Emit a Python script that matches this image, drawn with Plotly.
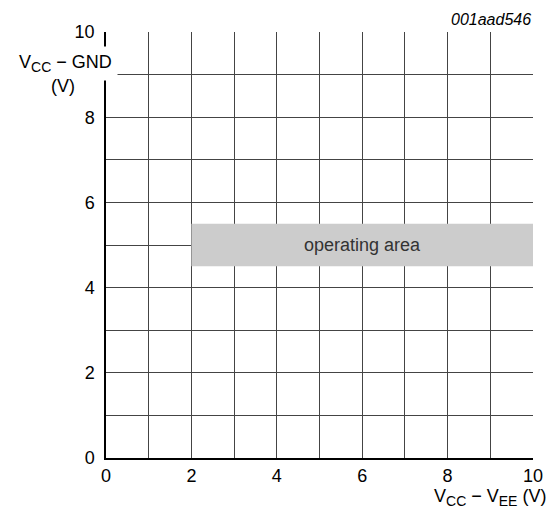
import plotly.graph_objects as go

x_ticks = [0, 2, 4, 6, 8, 10]
y_ticks = [0, 2, 4, 6, 8, 10]
area_x = [2, 10]
area_y = [4.5, 5.5]
area_label = "operating area"
code = "001aad546"

FONT = "Liberation Sans, Arial, sans-serif"
SUB = "<sub><span style='font-size:14px'>{}</span></sub>"

fig = go.Figure()
fig.add_trace(go.Scatter(
    x=[area_x[0], area_x[1], area_x[1], area_x[0], area_x[0]],
    y=[area_y[0], area_y[0], area_y[1], area_y[1], area_y[0]],
    fill="toself", fillcolor="#cccccc", mode="lines", line=dict(width=0),
    hoverinfo="skip", showlegend=False))
fig.add_annotation(x=(area_x[0] + area_x[1]) / 2, y=(area_y[0] + area_y[1]) / 2,
                   text=area_label, showarrow=False,
                   font=dict(family=FONT, size=18, color="#333333"))

axis_common = dict(showgrid=True, gridcolor="#444444", gridwidth=1,
                   showline=True, linecolor="black", linewidth=1.5,
                   ticks="", zeroline=False, mirror=False, automargin=False,
                   tickfont=dict(family=FONT, size=18, color="black"))
fig.update_xaxes(range=[0, 10], tickvals=x_ticks, ticklabelstandoff=1,
                 minor=dict(showgrid=True, dtick=1, gridcolor="#444444", gridwidth=1),
                 **axis_common)
fig.update_yaxes(range=[0, 10], tickvals=y_ticks, ticklabelstandoff=6,
                 minor=dict(showgrid=True, dtick=1, gridcolor="#444444", gridwidth=1),
                 **axis_common)

fig.add_annotation(xref="paper", yref="paper", x=1, y=1, xanchor="right", yanchor="bottom",
                   yshift=2, text=f"<i>{code}</i>", showarrow=False,
                   font=dict(family=FONT, size=16, color="black"))
fig.add_annotation(xref="paper", yref="paper", x=0, y=0.925, xanchor="right", yanchor="middle",
                   xshift=11.5, text="V" + SUB.format("CC") + " − GND", showarrow=False,
                   bgcolor="white", borderpad=5, font=dict(family=FONT, size=18, color="black"))
fig.add_annotation(xref="paper", yref="paper", x=0, y=0.873, xanchor="center", yanchor="middle",
                   xshift=-43, text="(V)", showarrow=False,
                   font=dict(family=FONT, size=18, color="black"))
fig.add_annotation(xref="paper", yref="paper", x=1, y=0, xanchor="right", yanchor="top",
                   xshift=15, yshift=-26,
                   text="V" + SUB.format("CC") + " − V" + SUB.format("EE") + " (V)",
                   showarrow=False, font=dict(family=FONT, size=18, color="black"))

fig.update_layout(width=550, height=509, margin=dict(l=106, r=17, t=32, b=51),
                  plot_bgcolor="white", paper_bgcolor="white", showlegend=False)
fig.write_html("out.html", config={"displayModeBar": False},
               post_script="document.body.style.margin='0';document.body.style.overflow='hidden';")
